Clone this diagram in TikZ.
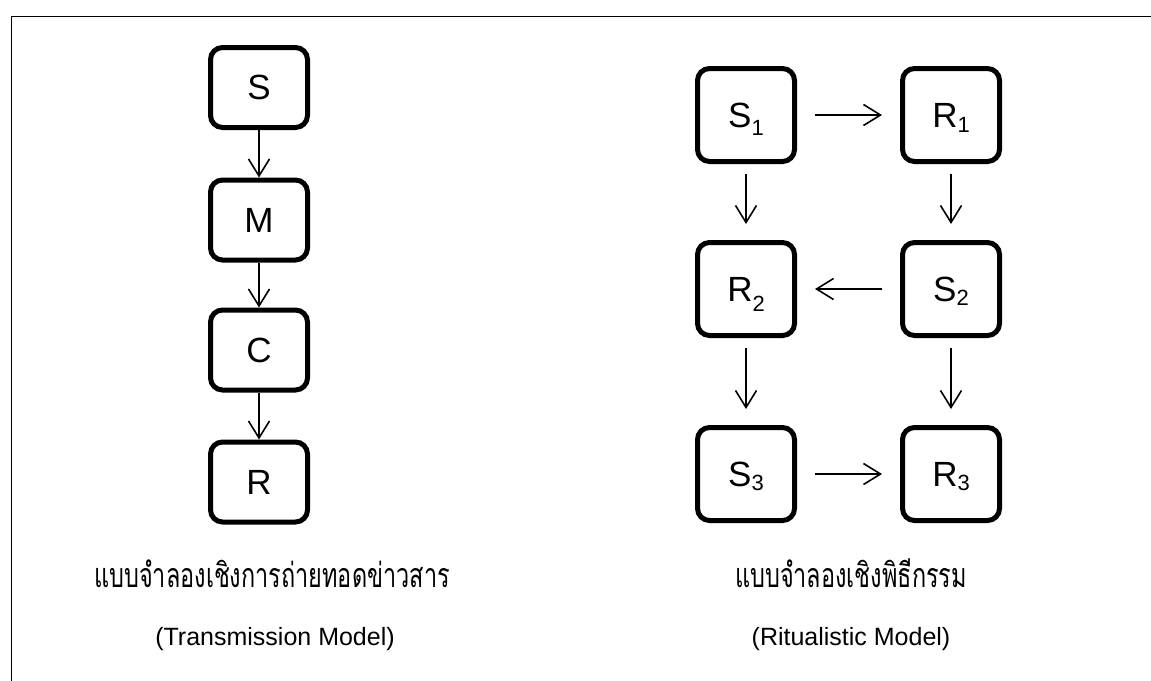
\documentclass[tikz,border=0pt]{standalone}
\usepackage{fontspec}
\setmainfont{Liberation Sans}
\newfontfamily\thaifont[Script=Thai, FakeStretch=0.69]{Loma}
\usetikzlibrary{arrows.meta}

\tikzset{
  box/.style={draw, line width=5pt, rounded corners=12pt, minimum width=97pt,
    minimum height=80pt, inner sep=0pt, font=\fontsize{35}{35}\selectfont},
  sqbox/.style={box, minimum width=97pt, minimum height=93pt},
  flow/.style={line width=1.6pt, -{Straight Barb[length=17pt,width=21pt,line width=1.6pt]}},
  vlink/.style={flow, shorten <=10pt, shorten >=16pt},
  hlink/.style={flow, shorten <=18pt, shorten >=18pt},
  thai/.style={font=\thaifont\fontsize{34}{34}\selectfont, anchor=base, inner sep=0pt},
  eng/.style={font=\fontsize{25}{25}\selectfont, anchor=base, inner sep=0pt}
}
% letter with a lowered index that does not shift the letter's centring
\newcommand{\idx}[2]{\raisebox{-#1}[0pt][0pt]{\fontsize{22}{22}\selectfont #2}}

\begin{document}
\begin{tikzpicture}[x=1pt,y=-1pt]
  \useasboundingbox (0,0) rectangle (1151,680);
  \clip (0,0) rectangle (1151,680);
  % page frame (continues past the right and bottom edges)
  \draw[line width=1pt] (11,700) -- (11,16) -- (1170,16);

  % transmission model
  \node[box] (s) at (259,87.5) {S};
  \node[box] (m) at (259,220) {M};
  \node[box] (c) at (259,350) {C};
  \node[box] (r) at (259,482) {R};
  \draw[flow] (s) -- (m);
  \draw[flow] (m) -- (c);
  \draw[flow] (c) -- (r);
  \node[thai] (tt) at (272,587) {แบบจำลองเชิงการถ่ายทอดข่าวสาร};
  \node[eng] (te) at (275,645) {(Transmission Model)};

  % ritualistic model
  \node[sqbox] (s1) at (746,115) {S\idx{8pt}{1}};
  \node[sqbox] (r1) at (951,115) {R\idx{5pt}{1}};
  \node[sqbox] (r2) at (746,289) {R\idx{10pt}{2}};
  \node[sqbox] (s2) at (951,289) {S\idx{4pt}{2}};
  \node[sqbox] (s3) at (746,474) {S\idx{4pt}{3}};
  \node[sqbox] (r3) at (951,474) {R\idx{4pt}{3}};
  \draw[hlink] (s1) -- (r1);
  \draw[vlink] (s1) -- (r2);
  \draw[vlink] (r1) -- (s2);
  \draw[hlink] (s2) -- (r2);
  \draw[vlink] (r2) -- (s3);
  \draw[vlink] (s2) -- (r3);
  \draw[hlink] (s3) -- (r3);
  \node[thai] (rt) at (851,587) {แบบจำลองเชิงพิธีกรรม};
  \node[eng] (re) at (851,645) {(Ritualistic Model)};
\end{tikzpicture}
\end{document}
